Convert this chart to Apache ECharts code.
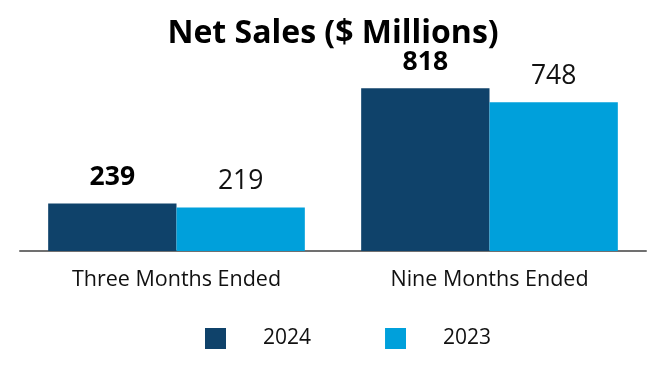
<!DOCTYPE html>
<html>
<head>
<meta charset="utf-8">
<script src="https://cdn.jsdelivr.net/npm/echarts@6/dist/echarts.min.js"></script>
<style>html,body{margin:0;padding:0;background:#fff}#c{width:666px;height:380px}</style>
</head>
<body>
<div id="c"></div>
<script>
const categories = ["Three Months Ended", "Nine Months Ended"];
const seriesNames = ["2024", "2023"];
const values2024 = [239, 818];
const values2023 = [219, 748];
const titleText = "Net Sales ($ Millions)";

const FONT = "'Open Sans', sans-serif";
const chart = echarts.init(document.getElementById('c'), null, {renderer: 'canvas'});
chart.setOption({
  animation: false,
  backgroundColor: '#ffffff',
  title: {
    text: titleText, left: 'center', top: 13,
    textStyle: {fontFamily: FONT, fontSize: 32, fontWeight: 'bold', color: '#000'}
  },
  legend: {
    data: seriesNames, bottom: 26, left: 200,
    itemWidth: 21, itemHeight: 21, itemGap: 74,
    icon: 'rect',
    textStyle: {fontFamily: FONT, fontSize: 21, color: '#111', padding: [0, 0, 0, 32]}
  },
  grid: {left: 20, right: 20, top: 52, bottom: 129, containLabel: false},
  xAxis: {
    type: 'category', data: categories,
    axisLine: {show: true, lineStyle: {color: '#707070', width: 2}},
    axisTick: {show: false},
    axisLabel: {fontFamily: FONT, fontSize: 21.5, color: '#111', margin: 18}
  },
  yAxis: {type: 'value', min: 0, max: 1000, show: false, splitLine: {show: false}},
  series: [
    {
      name: seriesNames[0], type: 'bar', data: values2024,
      barGap: '0%', barCategoryGap: '18%',
      itemStyle: {color: '#0f426a'},
      label: {show: true, position: 'top', distance: 12, fontFamily: FONT, fontSize: 26.5, fontWeight: 'bold', color: '#000'}
    },
    {
      name: seriesNames[1], type: 'bar', data: values2023,
      itemStyle: {color: '#00a0db'},
      label: {show: true, position: 'top', distance: 12, fontFamily: FONT, fontSize: 26.5, color: '#111'}
    }
  ]
});
</script>
</body>
</html>
